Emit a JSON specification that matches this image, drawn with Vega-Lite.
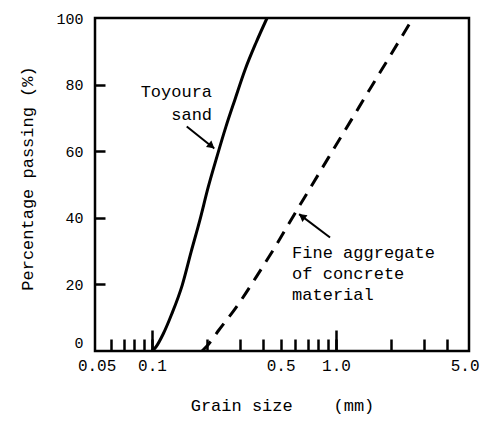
{
  "$schema": "https://vega.github.io/schema/vega-lite/v6.json",
  "width": 374,
  "height": 333,
  "autosize": {"type": "none"},
  "padding": {"left": 95, "top": 18, "right": 15, "bottom": 71},
  "background": "white",
  "config": {
    "view": {"stroke": "black", "strokeWidth": 2.5},
    "font": "Liberation Mono"
  },
  "datasets": {
    "curves": [
      {"series": "Toyoura sand", "d": 0.1, "p": 0},
      {"series": "Toyoura sand", "d": 0.105, "p": 1.2},
      {"series": "Toyoura sand", "d": 0.115, "p": 5.1},
      {"series": "Toyoura sand", "d": 0.128, "p": 11.1},
      {"series": "Toyoura sand", "d": 0.146, "p": 19.8},
      {"series": "Toyoura sand", "d": 0.163, "p": 29.7},
      {"series": "Toyoura sand", "d": 0.182, "p": 39.3},
      {"series": "Toyoura sand", "d": 0.202, "p": 49.2},
      {"series": "Toyoura sand", "d": 0.226, "p": 58.6},
      {"series": "Toyoura sand", "d": 0.252, "p": 67.3},
      {"series": "Toyoura sand", "d": 0.283, "p": 75.7},
      {"series": "Toyoura sand", "d": 0.32, "p": 84.4},
      {"series": "Toyoura sand", "d": 0.367, "p": 92.5},
      {"series": "Toyoura sand", "d": 0.422, "p": 100},
      {"series": "Fine aggregate", "d": 0.187, "p": 0},
      {"series": "Fine aggregate", "d": 0.199, "p": 1.5},
      {"series": "Fine aggregate", "d": 0.231, "p": 6.3},
      {"series": "Fine aggregate", "d": 0.29, "p": 13.5},
      {"series": "Fine aggregate", "d": 0.368, "p": 22.2},
      {"series": "Fine aggregate", "d": 0.466, "p": 31.2},
      {"series": "Fine aggregate", "d": 0.599, "p": 41.4},
      {"series": "Fine aggregate", "d": 0.729, "p": 49.2},
      {"series": "Fine aggregate", "d": 0.915, "p": 58.3},
      {"series": "Fine aggregate", "d": 1.184, "p": 68.5},
      {"series": "Fine aggregate", "d": 1.553, "p": 79.3},
      {"series": "Fine aggregate", "d": 1.951, "p": 88.3},
      {"series": "Fine aggregate", "d": 2.62, "p": 100}
    ],
    "arrows": [
      {"id": "toyoura", "d": 0.1544, "p": 67.4, "d2": 0.218, "p2": 60.8, "hd": 0.21, "hp": 61.6},
      {"id": "fine", "d": 0.928, "p": 34.1, "d2": 0.63, "p2": 41.1, "hd": 0.655, "hp": 40.4}
    ],
    "majorTicks": [
      {"d": 0.1, "p": 0},
      {"d": 1, "p": 0}
    ],
    "labels": [
      {"id": "toyoura", "d": 0.212, "p": 76.3, "text": "Toyoura\nsand"},
      {"id": "fine", "d": 0.577, "p": 27.8, "text": "Fine aggregate\nof concrete\nmaterial"}
    ]
  },
  "resolve": {"axis": {"x": "independent"}},
  "layer": [
    {
      "encoding": {
        "x": {
          "field": "d", "type": "quantitative",
          "scale": {"type": "log", "domain": [0.049, 5.28], "nice": false},
          "axis": {
            "orient": "bottom",
            "title": "Grain size\u00a0\u00a0\u00a0\u00a0(mm)",
            "values": [0.05, 0.06, 0.07, 0.08, 0.09, 0.1, 0.2, 0.3, 0.4, 0.5, 0.6, 0.7, 0.8, 0.9, 1, 2, 3, 4, 5],
            "labelExpr": "datum.value == 0.05 ? '0.05' : datum.value == 0.1 ? '0.1' : datum.value == 0.5 ? '0.5' : datum.value == 1 ? '1.0' : datum.value == 5 ? '5.0' : ''",
            "domain": false,
            "grid": false,
            "tickColor": "black",
            "tickWidth": 2.5,
            "tickSize": -12,
            "tickOpacity": {"condition": {"test": "datum.value == 0.05 || datum.value == 5", "value": 0}, "value": 1},
            "labelFont": "Liberation Mono",
            "labelFontSize": 16,
            "labelColor": "black",
            "labelPadding": 18,
            "labelFlush": false,
            "labelOverlap": false,
            "labelBound": false,
            "titleFont": "Liberation Mono",
            "titleFontSize": 17,
            "titleFontWeight": "normal",
            "titleColor": "black",
            "titleBaseline": "middle",
            "titleY": 54
          }
        },
        "y": {
          "field": "p", "type": "quantitative",
          "scale": {"domain": [0, 100], "nice": false},
          "axis": {
            "title": "Percentage passing (%)",
            "values": [0, 20, 40, 60, 80, 100],
            "domain": false,
            "grid": false,
            "tickColor": "black",
            "tickWidth": 2.5,
            "tickSize": -10,
            "tickOpacity": {"condition": {"test": "datum.value == 0 || datum.value == 100", "value": 0}, "value": 1},
            "labelFont": "Liberation Mono",
            "labelFontSize": 15,
            "labelColor": "black",
            "labelPadding": 22,
            "labelOffset": {"condition": {"test": "datum.value == 0", "value": -9}, "value": 0},
            "labelFlush": false,
            "labelOverlap": false,
            "labelBound": false,
            "titleFont": "Liberation Mono",
            "titleFontSize": 17,
            "titleFontWeight": "normal",
            "titleColor": "black",
            "titleBaseline": "middle",
            "titleX": -68,
            "titleY": 160
          }
        }
      },
      "layer": [
        {
          "data": {"name": "curves"},
          "transform": [{"filter": "datum.series == 'Toyoura sand'"}],
          "mark": {"type": "line", "color": "black", "strokeWidth": 3, "interpolate": "monotone"}
        },
        {
          "data": {"name": "curves"},
          "transform": [{"filter": "datum.series == 'Fine aggregate'"}],
          "mark": {"type": "line", "color": "black", "strokeWidth": 3, "strokeDash": [13, 9], "interpolate": "monotone"}
        },
        {
          "data": {"name": "arrows"},
          "mark": {"type": "rule", "color": "black", "strokeWidth": 2},
          "encoding": {
            "x2": {"field": "d2"},
            "y2": {"field": "p2"}
          }
        },
        {
          "data": {"name": "arrows"},
          "transform": [{"filter": "datum.id == 'toyoura'"}],
          "mark": {"type": "point", "shape": "triangle-up", "filled": true, "fill": "black", "stroke": "black", "strokeWidth": 1, "opacity": 1, "fillOpacity": 1, "size": 45, "angle": 129.5},
          "encoding": {
            "x": {"field": "hd", "type": "quantitative"},
            "y": {"field": "hp", "type": "quantitative"}
          }
        },
        {
          "data": {"name": "arrows"},
          "transform": [{"filter": "datum.id == 'fine'"}],
          "mark": {"type": "point", "shape": "triangle-up", "filled": true, "fill": "black", "stroke": "black", "strokeWidth": 1, "opacity": 1, "fillOpacity": 1, "size": 45, "angle": 307},
          "encoding": {
            "x": {"field": "hd", "type": "quantitative"},
            "y": {"field": "hp", "type": "quantitative"}
          }
        },
        {
          "data": {"name": "labels"},
          "transform": [{"filter": "datum.id == 'toyoura'"}],
          "mark": {"type": "text", "align": "right", "baseline": "alphabetic", "font": "Liberation Mono", "fontSize": 17, "color": "black", "lineBreak": "\n", "lineHeight": 23},
          "encoding": {
            "text": {"field": "text"}
          }
        },
        {
          "data": {"name": "labels"},
          "transform": [{"filter": "datum.id == 'fine'"}],
          "mark": {"type": "text", "align": "left", "baseline": "alphabetic", "font": "Liberation Mono", "fontSize": 17, "color": "black", "lineBreak": "\n", "lineHeight": 21},
          "encoding": {
            "text": {"field": "text"}
          }
        }
      ]
    },
    {
      "data": {"name": "majorTicks"},
      "mark": {"type": "point", "opacity": 0},
      "encoding": {
        "x": {
          "field": "d", "type": "quantitative",
          "scale": {"type": "log", "domain": [0.049, 5.28], "nice": false},
          "axis": {
            "orient": "bottom",
            "title": null,
            "values": [0.1, 1],
            "labels": false,
            "domain": false,
            "grid": false,
            "tickColor": "black",
            "tickWidth": 2.5,
            "tickSize": -21
          }
        },
        "y": {"field": "p", "type": "quantitative", "scale": {"domain": [0, 100], "nice": false}}
      }
    }
  ]
}
